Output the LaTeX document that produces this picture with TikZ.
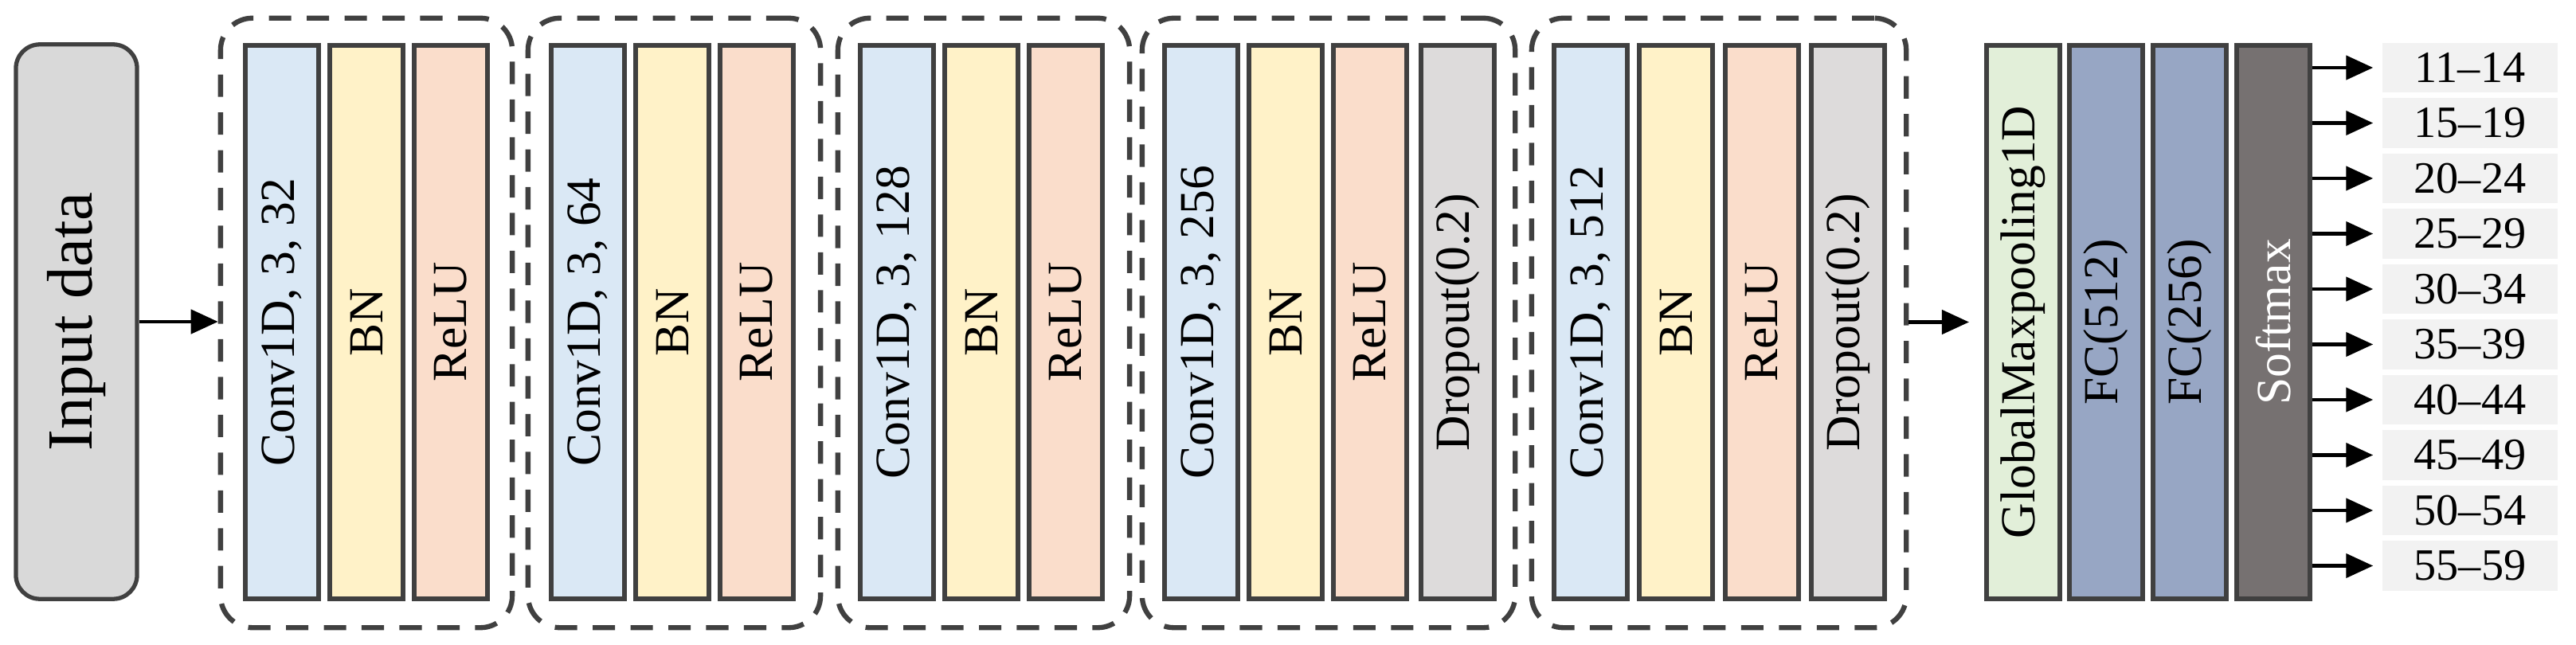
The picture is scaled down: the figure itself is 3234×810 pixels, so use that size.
\documentclass[tikz,border=0pt]{standalone}
\usepackage{fontspec}
\setmainfont{Liberation Serif}
\usetikzlibrary{arrows.meta}
\definecolor{cconv}{HTML}{DAE8F5}
\definecolor{cbn}{HTML}{FFF2C8}
\definecolor{crelu}{HTML}{FADDCB}
\definecolor{cdrop}{HTML}{DDDBDB}
\definecolor{cglob}{HTML}{E2EFD9}
\definecolor{cfc}{HTML}{97A6C4}
\definecolor{csoft}{HTML}{767171}
\definecolor{cin}{HTML}{D9D9D9}
\definecolor{clab}{HTML}{F2F2F2}
\definecolor{cline}{HTML}{404040}
\tikzset{
  bar/.style={draw=cline, line width=1.7pt, minimum width=0.92cm, minimum height=6.95cm, inner sep=0pt},
  bartext/.style={rotate=90, font=\fontsize{17.5}{20}\selectfont},
  group/.style={draw=cline, line width=1.8pt, dash pattern=on 8pt off 5.5pt, rounded corners=0.4cm, minimum height=7.65cm, inner sep=0pt},
  lab/.style={fill=clab, minimum width=2.2cm, minimum height=0.62cm, inner sep=0pt, font=\fontsize{16}{18}\selectfont},
  arr/.style={line width=1.3pt, -{Triangle[length=0.34cm,width=0.3cm]}}
}
\begin{document}
\begin{tikzpicture}[x=0.01cm,y=-0.01cm]
\useasboundingbox (0,0) rectangle (3234,810);
% input
\node[draw=cline, fill=cin, line width=1.5pt, rounded corners=0.3cm, minimum width=1.52cm, minimum height=6.96cm, inner sep=0pt] (in) at (96,404) {};
\node[rotate=90, font=\fontsize{23}{26}\selectfont] at (in) {Input data};
% groups
\node[group, minimum width=3.66cm] (g1) at (460,405.5) {};
\node[group, minimum width=3.67cm] (g2) at (846.5,405.5) {};
\node[group, minimum width=3.66cm] (g3) at (1235,405.5) {};
\node[group, minimum width=4.68cm] (g4) at (1668,405.5) {};
\node[group, minimum width=4.70cm] (g5) at (2158,405.5) {};
% bars
\newcommand{\mybar}[5]{%
  \node[bar, fill=#3] (#1) at (#2,404.5) {};
  \node[bartext, text=#4] at (#1) {#5};}
\mybar{a1}{354}{cconv}{black}{Conv1D, 3, 32}
\mybar{a2}{460}{cbn}{black}{BN}
\mybar{a3}{566}{crelu}{black}{ReLU}
\mybar{b1}{738}{cconv}{black}{Conv1D, 3, 64}
\mybar{b2}{844}{cbn}{black}{BN}
\mybar{b3}{950}{crelu}{black}{ReLU}
\mybar{c1}{1126}{cconv}{black}{Conv1D, 3, 128}
\mybar{c2}{1232}{cbn}{black}{BN}
\mybar{c3}{1338}{crelu}{black}{ReLU}
\mybar{d1}{1508}{cconv}{black}{Conv1D, 3, 256}
\mybar{d2}{1614}{cbn}{black}{BN}
\mybar{d3}{1720}{crelu}{black}{ReLU}
\mybar{d4}{1830}{cdrop}{black}{Dropout(0.2)}
\mybar{e1}{1997}{cconv}{black}{Conv1D, 3, 512}
\mybar{e2}{2104}{cbn}{black}{BN}
\mybar{e3}{2212}{crelu}{black}{ReLU}
\mybar{e4}{2320}{cdrop}{black}{Dropout(0.2)}
\mybar{f1}{2540}{cglob}{black}{GlobalMaxpooling1D}
\mybar{f2}{2644}{cfc}{black}{FC(512)}
\mybar{f3}{2749}{cfc}{black}{FC(256)}
\mybar{f4}{2854}{csoft}{white}{Softmax}
% arrows
\draw[arr] (in.east) -- (in.east -| g1.west);
\draw[arr, shorten >=0.19cm] (g5.east |- f1.west) -- (f1.west);
% outputs
\foreach \t [count=\i] in {11--14,15--19,20--24,25--29,30--34,35--39,40--44,45--49,50--54,55--59}{
  \node[lab] (o\i) at (3101,{15.5+69.5*\i}) {\t};
  \draw[arr, shorten >=0.11cm] (f4.east |- o\i.west) -- (o\i.west);
}
\end{tikzpicture}
\end{document}
